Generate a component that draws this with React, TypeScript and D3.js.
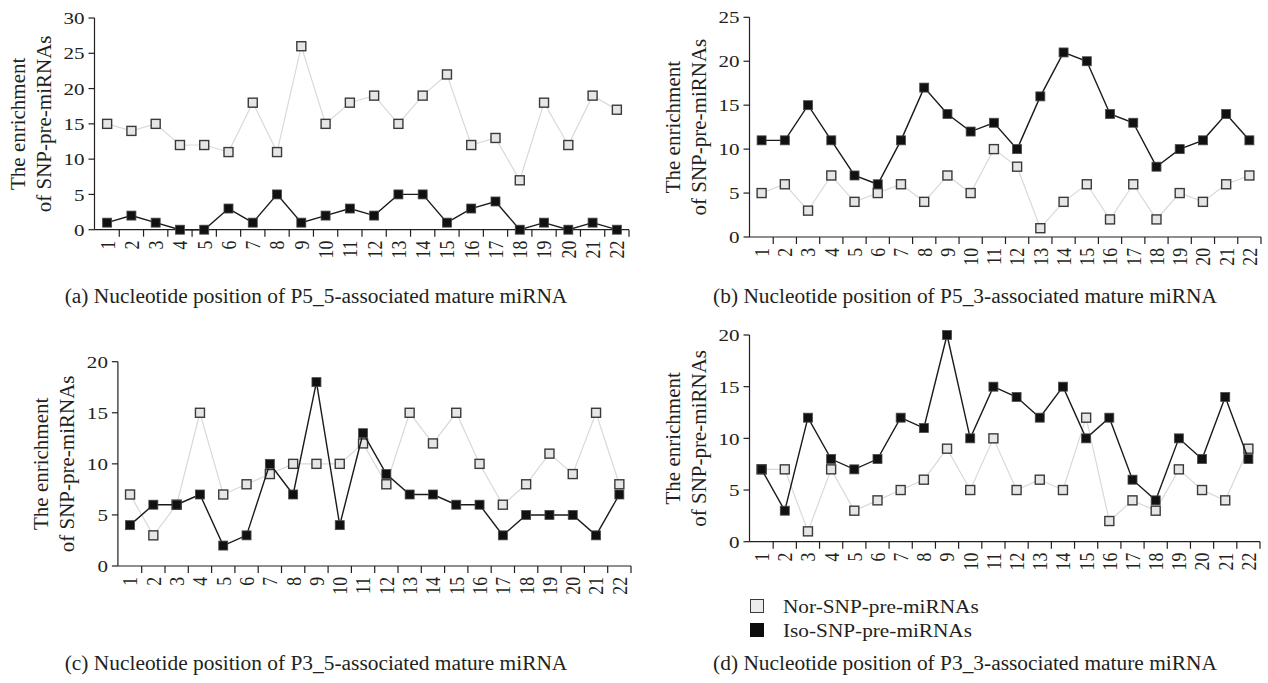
import React from 'react';
import * as d3 from 'd3';

// ---- Data ----
const positions = ['1','2','3','4','5','6','7','8','9','10','11','12','13','14','15','16','17','18','19','20','21','22'];

const norP5_5 = [15, 14, 15, 12, 12, 11, 18, 11, 26, 15, 18, 19, 15, 19, 22, 12, 13, 7, 18, 12, 19, 17];
const isoP5_5 = [1, 2, 1, 0, 0, 3, 1, 5, 1, 2, 3, 2, 5, 5, 1, 3, 4, 0, 1, 0, 1, 0];

const norP5_3 = [5, 6, 3, 7, 4, 5, 6, 4, 7, 5, 10, 8, 1, 4, 6, 2, 6, 2, 5, 4, 6, 7];
const isoP5_3 = [11, 11, 15, 11, 7, 6, 11, 17, 14, 12, 13, 10, 16, 21, 20, 14, 13, 8, 10, 11, 14, 11];

const norP3_5 = [7, 3, 6, 15, 7, 8, 9, 10, 10, 10, 12, 8, 15, 12, 15, 10, 6, 8, 11, 9, 15, 8];
const isoP3_5 = [4, 6, 6, 7, 2, 3, 10, 7, 18, 4, 13, 9, 7, 7, 6, 6, 3, 5, 5, 5, 3, 7];

const norP3_3 = [7, 7, 1, 7, 3, 4, 5, 6, 9, 5, 10, 5, 6, 5, 12, 2, 4, 3, 7, 5, 4, 9];
const isoP3_3 = [7, 3, 12, 8, 7, 8, 12, 11, 20, 10, 15, 14, 12, 15, 10, 12, 6, 4, 10, 8, 14, 8];

const yTicksP5_5 = [0, 5, 10, 15, 20, 25, 30];
const yTicksP5_3 = [0, 5, 10, 15, 20, 25];
const yTicksP3_5 = [0, 5, 10, 15, 20];
const yTicksP3_3 = [0, 5, 10, 15, 20];

const captionP5_5 = '(a) Nucleotide position of P5_5-associated mature miRNA';
const captionP5_3 = '(b) Nucleotide position of P5_3-associated mature miRNA';
const captionP3_5 = '(c) Nucleotide position of P3_5-associated mature miRNA';
const captionP3_3 = '(d) Nucleotide position of P3_3-associated mature miRNA';

const yTitleLines = ['The enrichment', 'of SNP-pre-miRNAs'];
const legendLabels = ['Nor-SNP-pre-miRNAs', 'Iso-SNP-pre-miRNAs'];

// ---- Styles ----
const FONT = '"Liberation Serif", "Times New Roman", serif';
const INK = '#231f20';
const SX = 1.19;

type Layout = { x0: number; x1: number; yb: number; yt: number; capX: number; capY: number };

const layouts: Layout[] = [
  { x0: 95, x1: 629, yb: 229.7, yt: 18, capX: 316, capY: 303 },
  { x0: 750, x1: 1261, yb: 237, yt: 17.3, capX: 965, capY: 303 },
  { x0: 118.4, x1: 631, yb: 566, yt: 361.7, capX: 316, capY: 670 },
  { x0: 750, x1: 1260, yb: 541.7, yt: 335, capX: 965, capY: 670 },
];

function Panel({ layout, nor, iso, ticks, caption }: { layout: Layout; nor: number[]; iso: number[]; ticks: number[]; caption: string }) {
  const x = d3.scaleBand<string>().domain(positions).range([layout.x0, layout.x1]);
  const y = d3.scaleLinear().domain([0, ticks[ticks.length - 1]]).range([layout.yb, layout.yt]);
  const bw = x.bandwidth();
  const cx = (i: number) => (x(positions[i]) as number) + bw / 2;
  const line = d3.line<number>().x((_, i) => cx(i)).y((v) => y(v));
  const ax = layout.x0 - 0.5;
  const yMid = (layout.yb + layout.yt) / 2;
  const ms = 9;
  return (
    <g>
      <line x1={ax} x2={ax} y1={y(ticks[ticks.length - 1])} y2={layout.yb} stroke={INK} strokeWidth={1.2} />
      <line x1={ax} x2={layout.x1} y1={layout.yb} y2={layout.yb} stroke={INK} strokeWidth={1.2} />
      {ticks.map((t) => (
        <g key={'yt' + t}>
          <line x1={ax - 6} x2={ax} y1={y(t)} y2={y(t)} stroke={INK} strokeWidth={1.2} />
          <text transform={`translate(${ax - 10},${y(t)}) scale(${SX},1)`} textAnchor="end" dy="0.35em" fontSize={17.7} fill={INK} fontFamily={FONT}>{t}</text>
        </g>
      ))}
      {positions.map((p, i) => (
        <g key={'xt' + p}>
          <line x1={(x(p) as number) + bw} x2={(x(p) as number) + bw} y1={layout.yb} y2={layout.yb + 7} stroke={INK} strokeWidth={1.2} />
          <text transform={`translate(${cx(i)},${layout.yb + 11}) scale(${SX},1) rotate(-90)`} textAnchor="end" dy="0.35em" fontSize={17.7} fill={INK} fontFamily={FONT}>{p}</text>
        </g>
      ))}
      {yTitleLines.map((s, k) => (
        <text key={s} transform={`translate(${ax - 70 + k * 26},${yMid}) rotate(-90)`} textAnchor="middle" fontSize={21} fill={INK} fontFamily={FONT}>{s}</text>
      ))}
      <path d={line(nor) || ''} fill="none" stroke="#d9d9d9" strokeWidth={1.2} />
      {nor.map((v, i) => (
        <rect key={'n' + i} x={cx(i) - ms / 2} y={y(v) - ms / 2} width={ms} height={ms} fill="#e6e6e6" stroke="#3a3a3a" strokeWidth={1.4} />
      ))}
      <path d={line(iso) || ''} fill="none" stroke="#1a1a1a" strokeWidth={1.4} />
      {iso.map((v, i) => (
        <rect key={'s' + i} x={cx(i) - ms / 2} y={y(v) - ms / 2} width={ms} height={ms} fill="#111111" stroke="#4a4a4a" strokeWidth={0.8} />
      ))}
      <text transform={`translate(${layout.capX},${layout.capY}) scale(1.07,1)`} textAnchor="middle" fontSize={20} fill={INK} fontFamily={FONT}>{caption}</text>
    </g>
  );
}

export default function App() {
  return (
    <svg width={1268} height={683} style={{ position: 'absolute', left: 0, top: 0, background: '#fff' }}>
      <rect x={0} y={0} width={1268} height={683} fill="#ffffff" />
      <Panel layout={layouts[0]} nor={norP5_5} iso={isoP5_5} ticks={yTicksP5_5} caption={captionP5_5} />
      <Panel layout={layouts[1]} nor={norP5_3} iso={isoP5_3} ticks={yTicksP5_3} caption={captionP5_3} />
      <Panel layout={layouts[2]} nor={norP3_5} iso={isoP3_5} ticks={yTicksP3_5} caption={captionP3_5} />
      <Panel layout={layouts[3]} nor={norP3_3} iso={isoP3_3} ticks={yTicksP3_3} caption={captionP3_3} />
      <rect x={750.5} y={599.5} width={13} height={13} fill="#ececec" stroke="#3a3a3a" strokeWidth={1} />
      <rect x={750.5} y={623.5} width={13} height={13} fill="#0d0d0d" stroke="#0d0d0d" strokeWidth={1} />
      {legendLabels.map((s, k) => (
        <text key={s} transform={`translate(783,${613 + k * 24}) scale(1.12,1)`} fontSize={19} fill={INK} fontFamily={FONT}>{s}</text>
      ))}
    </svg>
  );
}
